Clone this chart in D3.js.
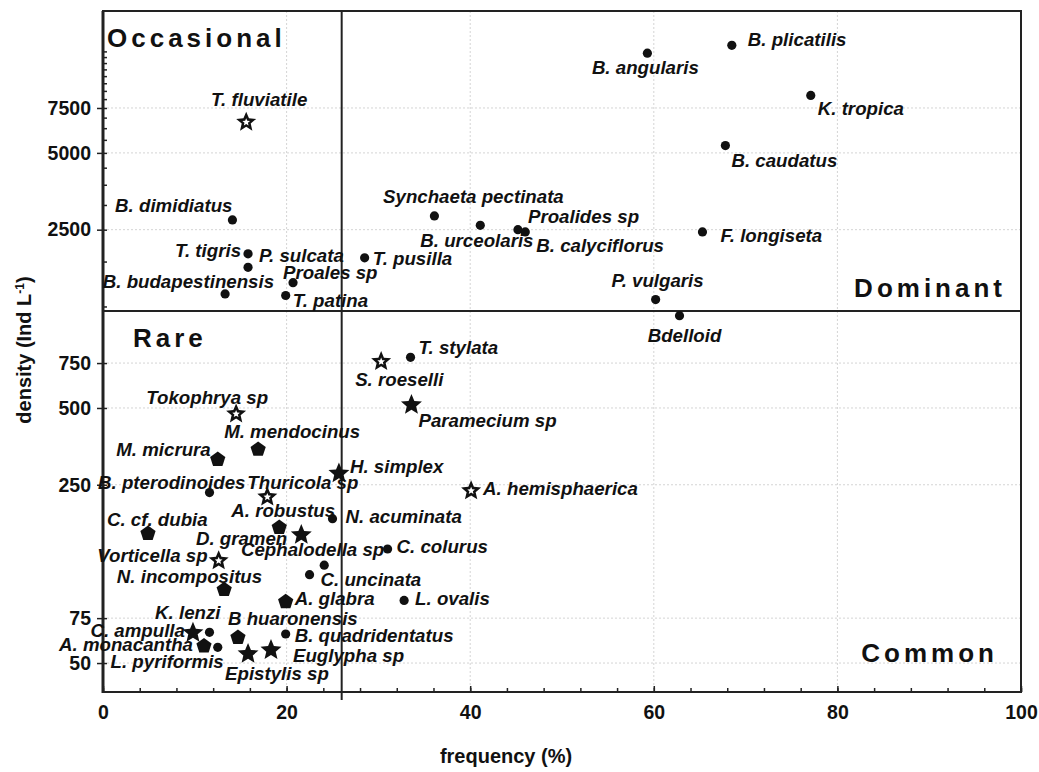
<!DOCTYPE html>
<html>
<head>
<meta charset="utf-8">
<script src="https://cdn.jsdelivr.net/npm/d3@7"></script>
<style>
  body { margin: 0; background: #fff; }
  text { font-family: "Liberation Sans", Arial, sans-serif; fill: #111; }
  .lbl { font-size: 18.7px; font-weight: bold; font-style: italic; }
  .tick text { font-size: 19.5px; font-weight: bold; }
  .quad { font-size: 26px; font-weight: bold; letter-spacing: 4px; }
  .title { font-size: 20px; font-weight: bold; }
</style>
</head>
<body>
<div id="plot"></div>
<script>
// species, frequency (%) and density (Ind L-1)
const names = ["T. fluviatile", "B. dimidiatus", "T. tigris", "P. sulcata", "B. budapestinensis",
  "Proales sp", "T. patina", "B. angularis", "Synchaeta pectinata", "B. urceolaris",
  "Proalides sp", "B. calyciflorus", "T. pusilla", "P. vulgaris", "Bdelloid",
  "B. plicatilis", "K. tropica", "B. caudatus", "F. longiseta", "T. stylata",
  "S. roeselli", "Paramecium sp", "A. hemisphaerica", "H. simplex", "N. acuminata",
  "Tokophrya sp", "M. mendocinus", "M. micrura", "B. pterodinoides", "Thuricola sp",
  "A. robustus", "C. cf. dubia", "D. gramen", "Vorticella sp", "Cephalodella sp",
  "C. colurus", "C. uncinata", "N. incompositus", "A. glabra", "L. ovalis",
  "K. lenzi", "C. ampulla", "A. monacantha", "L. pyriformis", "B huaronensis",
  "B. quadridentatus", "Epistylis sp", "Euglypha sp"];
const frequency = [15.6, 14.1, 15.8, 15.8, 13.3,
  20.7, 19.9, 59.3, 36.1, 41.1,
  45.2, 46.0, 28.5, 60.2, 62.8,
  68.5, 77.1, 67.8, 65.3, 33.5,
  30.3, 33.6, 40.1, 25.7, 25.0,
  14.5, 16.9, 12.5, 11.6, 17.9,
  19.2, 4.9, 21.6, 12.6, 24.1,
  31.0, 22.5, 13.2, 19.9, 32.8,
  11.6, 9.8, 11.0, 12.5, 14.7,
  19.9, 15.8, 18.3];
const density = [6600, 2730, 2010, 1780, 1400,
  1550, 1380, 12300, 2830, 2600,
  2500, 2450, 1940, 1330, 1150,
  13200, 8400, 5340, 2450, 790,
  760, 514, 237, 277, 184,
  474, 344, 314, 233, 224,
  170, 161, 159, 126, 121,
  140, 111, 97, 87, 88,
  66, 65.7, 58.3, 57.6, 63,
  65, 54.3, 56.2];
const shape = ["openStar", "circle", "circle", "circle", "circle",
  "circle", "circle", "circle", "circle", "circle",
  "circle", "circle", "circle", "circle", "circle",
  "circle", "circle", "circle", "circle", "circle",
  "openStar", "star", "openStar", "star", "circle",
  "openStar", "pentagon", "pentagon", "circle", "openStar",
  "pentagon", "pentagon", "star", "openStar", "circle",
  "circle", "circle", "pentagon", "pentagon", "circle",
  "circle", "star", "pentagon", "circle", "pentagon",
  "circle", "star", "star"];

const xTicks = [0, 20, 40, 60, 80, 100];
const yTicks = [50, 75, 250, 500, 750, 2500, 5000, 7500];
const freqCut = 26, densityCut = 1200;

// label placement relative to each marker: [dx, dy, anchor]
const labelPos = {
  "T. fluviatile": [13, -16, "middle"], "B. dimidiatus": [0, -8, "end"],
  "T. tigris": [-7, 3, "end"], "P. sulcata": [11, -5, "start"],
  "B. budapestinensis": [49, -6, "end"], "Proales sp": [-10, -4, "start"],
  "T. patina": [7, 11, "start"], "B. angularis": [-2, 21, "middle"],
  "Synchaeta pectinata": [39, -13, "middle"], "B. urceolaris": [-60, 22, "start"],
  "Proalides sp": [10, -7, "start"], "B. calyciflorus": [11, 20, "start"],
  "T. pusilla": [8, 7, "start"], "P. vulgaris": [2, -13, "middle"],
  "Bdelloid": [5, 26, "middle"], "B. plicatilis": [16, 1, "start"],
  "K. tropica": [7, 20, "start"], "B. caudatus": [6, 21, "start"],
  "F. longiseta": [18, 10, "start"], "T. stylata": [8, -3, "start"],
  "S. roeselli": [-26, 24, "start"], "Paramecium sp": [7, 22, "start"],
  "A. hemisphaerica": [12, 4, "start"], "H. simplex": [11, 0, "start"],
  "N. acuminata": [13, 4, "start"], "Tokophrya sp": [32, -10, "end"],
  "M. mendocinus": [-34, -11, "start"], "M. micrura": [-7, -4, "end"],
  "B. pterodinoides": [36, -4, "end"], "Thuricola sp": [-20, -8, "start"],
  "A. robustus": [-48, -10, "start"], "C. cf. dubia": [-41, -8, "start"],
  "D. gramen": [-14, 10, "end"], "Vorticella sp": [-11, 1, "end"],
  "Cephalodella sp": [60, -9, "end"], "C. colurus": [9, 4, "start"],
  "C. uncinata": [11, 11, "start"], "N. incompositus": [38, -7, "end"],
  "A. glabra": [9, 3, "start"], "L. ovalis": [11, 5, "start"],
  "K. lenzi": [11, -13, "end"], "C. ampulla": [-8, 4, "end"],
  "A. monacantha": [-11, 5, "end"], "L. pyriformis": [6, 21, "end"],
  "B huaronensis": [-10, -12, "start"], "B. quadridentatus": [9, 8, "start"],
  "Epistylis sp": [-23, 26, "start"], "Euglypha sp": [22, 12, "start"]
};

const width = 1039, height = 772;
const mLeft = 103, mRight = 1021, mTop = 11, mBottom = 692;

const svg = d3.select("#plot")
  .append("svg")
    .attr("width", width)
    .attr("height", height);

const x = d3.scaleLinear().domain([0, 100]).range([mLeft, mRight]);
const y = d3.scaleLog().domain([38.5, 18000]).range([mBottom, mTop]);

// faint dotted grid
svg.append("g").selectAll("line")
  .data(xTicks.slice(1, -1))
  .join("line")
    .attr("x1", d => x(d)).attr("x2", d => x(d))
    .attr("y1", mTop).attr("y2", mBottom)
    .attr("stroke", "#d4d4d4").attr("stroke-dasharray", "2,2");
svg.append("g").selectAll("line")
  .data(yTicks)
  .join("line")
    .attr("x1", mLeft).attr("x2", mRight)
    .attr("y1", d => y(d)).attr("y2", d => y(d))
    .attr("stroke", "#d4d4d4").attr("stroke-dasharray", "2,2");

// x axis: minor ticks every 4, major every 20, pointing inward
svg.append("g")
  .attr("transform", `translate(0,${mBottom})`)
  .call(d3.axisBottom(x).tickValues(d3.range(0, 101, 4)).tickSize(-4).tickFormat(""))
  .call(g => g.select(".domain").remove())
  .selectAll("line").attr("stroke", "#222").attr("stroke-width", 1.5);

svg.append("g")
  .attr("transform", `translate(0,${mBottom})`)
  .call(d3.axisBottom(x).tickValues(xTicks).tickSize(-6))
  .call(g => g.select(".domain").remove())
  .call(g => g.selectAll("line").attr("stroke", "#222").attr("stroke-width", 1.5))
  .call(g => g.selectAll("text").attr("y", 27).attr("dy", null));

// y axis: log scale, majors cross the axis line
const minorY = d3.range(1250, 12501, 625).filter(v => !yTicks.includes(v));
svg.append("g")
  .attr("transform", `translate(${mLeft},0)`)
  .call(d3.axisLeft(y).tickValues(minorY).tickSize(-4).tickFormat(""))
  .call(g => g.select(".domain").remove())
  .selectAll("line").attr("stroke", "#222").attr("stroke-width", 1.5);

svg.append("g")
  .attr("transform", `translate(${mLeft},0)`)
  .call(d3.axisLeft(y).tickValues(yTicks).tickSize(6).tickPadding(6).tickFormat(d3.format("d")))
  .call(g => g.select(".domain").remove())
  .call(g => g.selectAll("line").attr("x1", 4).attr("stroke", "#222").attr("stroke-width", 1.5));

// frame
svg.append("rect")
  .attr("x", mLeft).attr("y", mTop)
  .attr("width", mRight - mLeft).attr("height", mBottom - mTop)
  .attr("fill", "none").attr("stroke", "#222").attr("stroke-width", 2);
svg.append("line")
  .attr("x1", mLeft).attr("x2", mLeft).attr("y1", mTop).attr("y2", mBottom + 1)
  .attr("stroke", "#222").attr("stroke-width", 3);

// quadrant dividers
svg.append("line")
  .attr("x1", x(freqCut)).attr("x2", x(freqCut))
  .attr("y1", mTop).attr("y2", mBottom + 8)
  .attr("stroke", "#222").attr("stroke-width", 2);
svg.append("line")
  .attr("x1", mLeft).attr("x2", mRight)
  .attr("y1", y(densityCut)).attr("y2", y(densityCut))
  .attr("stroke", "#222").attr("stroke-width", 2);

// quadrant names
svg.append("text").attr("class", "quad").attr("x", mLeft + 4).attr("y", 47).text("Occasional");
svg.append("text").attr("class", "quad").attr("x", mRight - 15).attr("y", 297)
  .attr("text-anchor", "end").text("Dominant");
svg.append("text").attr("class", "quad").attr("x", 133).attr("y", 347).text("Rare");
svg.append("text").attr("class", "quad").attr("x", mRight - 23).attr("y", 662)
  .attr("text-anchor", "end").text("Common");

// marker shapes
function starPath(ctx, r, ratio) {
  for (let i = 0; i < 10; i++) {
    const a = -Math.PI / 2 + i * Math.PI / 5;
    const rr = i % 2 ? r * ratio : r;
    const px = rr * Math.cos(a), py = rr * Math.sin(a);
    if (i === 0) ctx.moveTo(px, py); else ctx.lineTo(px, py);
  }
  ctx.closePath();
}
const star = { draw(ctx, size) { starPath(ctx, Math.sqrt(size), 0.45); } };
const pentagon = {
  draw(ctx, size) {
    const r = Math.sqrt(size);
    for (let i = 0; i < 5; i++) {
      const a = -Math.PI / 2 + i * 2 * Math.PI / 5;
      if (i === 0) ctx.moveTo(r * Math.cos(a), r * Math.sin(a));
      else ctx.lineTo(r * Math.cos(a), r * Math.sin(a));
    }
    ctx.closePath();
  }
};

const points = names.map((n, i) => ({ name: n, f: frequency[i], d: density[i], shape: shape[i] }));

const marks = svg.append("g").selectAll("g")
  .data(points)
  .join("g")
    .attr("transform", d => `translate(${x(d.f)},${y(d.d)})`);

marks.filter(d => d.shape === "circle").append("circle")
  .attr("r", 4.6).attr("fill", "#111");
marks.filter(d => d.shape === "pentagon").append("path")
  .attr("d", d3.symbol().type(pentagon).size(8 * 8)).attr("fill", "#111");
marks.filter(d => d.shape === "star").append("path")
  .attr("d", d3.symbol().type(star).size(11 * 11)).attr("fill", "#111");
marks.filter(d => d.shape === "openStar").append("path")
  .attr("d", d3.symbol().type(star).size(10.5 * 10.5)).attr("fill", "#111");
marks.filter(d => d.shape === "openStar").append("path")
  .attr("d", d3.symbol().type(star).size(4 * 4)).attr("fill", "#fff");

// species labels
svg.append("g").selectAll("text")
  .data(points)
  .join("text")
    .attr("class", "lbl")
    .attr("x", d => x(d.f) + labelPos[d.name][0])
    .attr("y", d => y(d.d) + labelPos[d.name][1])
    .attr("text-anchor", d => labelPos[d.name][2])
    .text(d => d.name);

// axis titles
svg.append("text").attr("class", "title")
  .attr("x", (mLeft + mRight) / 2 - 56).attr("y", 763)
  .attr("text-anchor", "middle").text("frequency (%)");

const yt = svg.append("text").attr("class", "title")
  .attr("transform", "translate(31,350) rotate(-90)")
  .attr("text-anchor", "middle");
yt.append("tspan").text("density (Ind L");
yt.append("tspan").attr("dy", -7).style("font-size", "12px").text("-1");
yt.append("tspan").attr("dy", 7).text(")");
</script>
</body>
</html>
